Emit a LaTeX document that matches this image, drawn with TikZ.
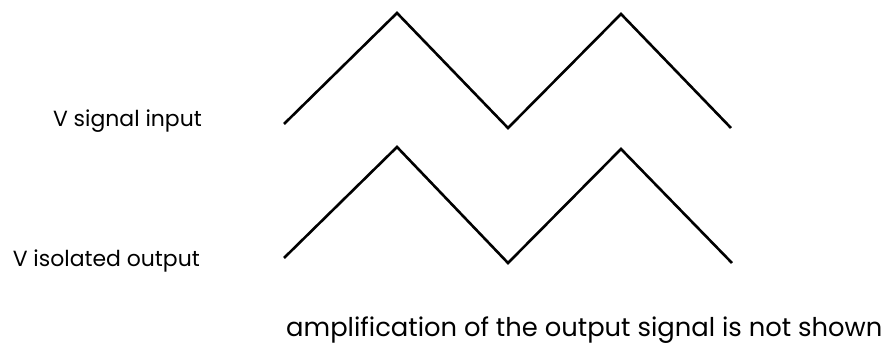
\documentclass[tikz,border=0pt]{standalone}
\usepackage{fontspec}
\setmainfont{Poppins}
\newlength\wref
\begin{document}
\settowidth\wref{\fontsize{10}{12}\selectfont V isolated output}%
\pgfmathsetmacro\fsl{10*187/\wref}%
\settowidth\wref{\fontsize{10}{12}\selectfont amplification of the output signal is not}%
\pgfmathsetmacro\fsn{10*505/\wref}%
\begin{tikzpicture}[x=1pt,y=-1pt,
  wave/.style={line width=2.6pt, line join=miter},
  lbl/.style={font=\fontsize{\fsl}{\fsl}\selectfont, inner sep=0pt},
  notestyle/.style={font=\fontsize{\fsn}{\fsn}\selectfont, inner sep=0pt}]
\useasboundingbox (0,0) rectangle (889,352);
\coordinate (a1) at (284,124);
\coordinate (a2) at (397,13);
\coordinate (a3) at (508,128);
\coordinate (a4) at (621,14);
\coordinate (a5) at (731,128);
\coordinate (b1) at (284,258);
\coordinate (b2) at (397,147);
\coordinate (b3) at (508,263);
\coordinate (b4) at (621,149);
\coordinate (b5) at (732,263);
\draw[wave] (a1) -- (a2) -- (a3) -- (a4) -- (a5);
\draw[wave] (b1) -- (b2) -- (b3) -- (b4) -- (b5);
\node[lbl, anchor=base east] (lin) at (202,127) {V signal input};
\node[lbl, anchor=base east] (lout) at (200,267) {V isolated output};
\node[notestyle, anchor=base west] (note) at (286,337) {amplification of the output signal is not shown};
\end{tikzpicture}
\end{document}
